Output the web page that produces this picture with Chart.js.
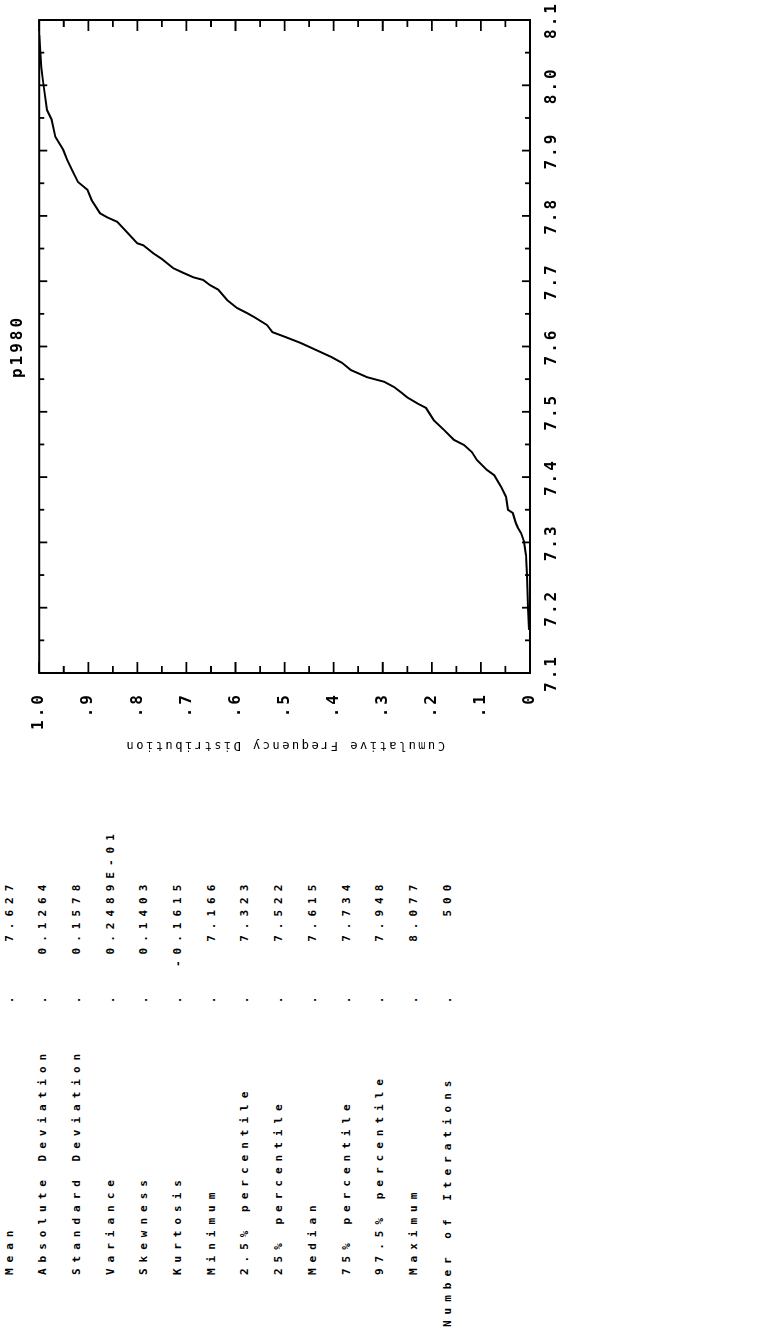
<!DOCTYPE html>
<html>
<head>
<meta charset="utf-8">
<script src="https://cdn.jsdelivr.net/npm/chart.js@4.4.1/dist/chart.umd.min.js"></script>
<style>
  html, body { margin: 0; padding: 0; background: #fff; }
  body { width: 762px; height: 1332px; overflow: hidden; position: relative; }
  /* the sheet is laid out landscape and turned a quarter turn to stand upright */
  #sheet {
    position: absolute; left: 0; top: 0; width: 1332px; height: 762px;
    transform-origin: 0 0; transform: translateY(1332px) rotate(-90deg);
    background: #fff;
  }
  #plotBox { position: absolute; left: 560px; top: 0; width: 772px; height: 600px; }
  .stat {
    position: absolute; height: 14px; line-height: 14px;
    font-family: "DejaVu Sans Mono", monospace; font-size: 11px; font-weight: bold;
    letter-spacing: 6px; white-space: pre; color: #000;
  }
</style>
</head>
<body>
<div id="sheet">
  <div id="plotBox"><canvas id="cdf" width="772" height="600"></canvas></div>
  <div id="stats"></div>
</div>
<script>
// Simulated output variable and its empirical cumulative distribution
const seriesName = 'p1980';
const axisTitle = 'Cumulative Frequency Distribution';

const sampleValues = [
  7.166, 7.200, 7.250, 7.280, 7.301, 7.314, 7.323, 7.330, 7.345, 7.350,
  7.370, 7.385, 7.403, 7.411, 7.426, 7.438, 7.449, 7.457, 7.472, 7.487,
  7.506, 7.513, 7.522, 7.530, 7.538, 7.546, 7.553, 7.564, 7.575, 7.584,
  7.596, 7.605, 7.615, 7.622, 7.633, 7.645, 7.651, 7.659, 7.671, 7.687,
  7.694, 7.702, 7.706, 7.713, 7.720, 7.734, 7.743, 7.755, 7.758, 7.775,
  7.791, 7.798, 7.804, 7.824, 7.840, 7.852, 7.870, 7.886, 7.901, 7.921,
  7.948, 7.962, 8.005, 8.028, 8.077
];
const cumulativeFreq = [
  0.002, 0.004, 0.006, 0.008, 0.012, 0.018, 0.025, 0.029, 0.035, 0.045,
  0.049, 0.059, 0.073, 0.088, 0.108, 0.118, 0.134, 0.155, 0.175, 0.196,
  0.212, 0.230, 0.250, 0.263, 0.277, 0.297, 0.332, 0.365, 0.383, 0.405,
  0.440, 0.466, 0.500, 0.525, 0.536, 0.562, 0.576, 0.597, 0.617, 0.635,
  0.652, 0.666, 0.686, 0.707, 0.727, 0.750, 0.768, 0.788, 0.800, 0.821,
  0.841, 0.862, 0.876, 0.893, 0.902, 0.921, 0.933, 0.943, 0.951, 0.967,
  0.975, 0.984, 0.992, 0.996, 1.000
];

const valueTicks = [7.1, 7.2, 7.3, 7.4, 7.5, 7.6, 7.7, 7.8, 7.9, 8.0, 8.1];
const valueTickLabels = ['7.1', '7.2', '7.3', '7.4', '7.5', '7.6', '7.7', '7.8', '7.9', '8.0', '8.1'];
const freqTicks = [0, 0.1, 0.2, 0.3, 0.4, 0.5, 0.6, 0.7, 0.8, 0.9, 1.0];
const freqTickLabels = ['0', '.1', '.2', '.3', '.4', '.5', '.6', '.7', '.8', '.9', '1.0'];

const statNames = [
  'Mean', 'Absolute Deviation', 'Standard Deviation', 'Variance', 'Skewness',
  'Kurtosis', 'Minimum', '2.5% percentile', '25% percentile', 'Median',
  '75% percentile', '97.5% percentile', 'Maximum', 'Number of Iterations'
];
const statValues = [
  '7.627', '0.1264', '0.1578', '0.2489E-01', '0.1403',
  '-0.1615', '7.166', '7.323', '7.522', '7.615',
  '7.734', '7.948', '8.077', '500'
];

// ---- statistics listing ----
const statsEl = document.getElementById('stats');
const rowPitch = 33.7, firstRowCenter = 9.5;
const cell = 12.62;              // monospace advance plus letter spacing
const valueField = 365;          // start of the value field
function putText(text, left, center) {
  const d = document.createElement('div');
  d.className = 'stat';
  d.textContent = text;
  d.style.left = left + 'px';
  d.style.top = (center - 7) + 'px';
  statsEl.appendChild(d);
}
statNames.forEach((name, i) => {
  const yc = firstRowCenter + i * rowPitch;
  putText(name, name.length > 18 ? 5 : 57, yc);
  putText('.', 332 - 3.3, yc);
  const v = statValues[i];
  // fixed-point values end at cell 6, exponent form fills the whole field
  const startCell = v.includes('E') ? 11 - v.length : 7 - v.length;
  putText(v, valueField + startCell * cell, yc);
});

// ---- chart ----
const points = sampleValues.map((v, i) => ({ x: v, y: cumulativeFreq[i] }));

function midpoints(arr) {
  const out = [];
  for (let i = 0; i < arr.length - 1; i++) out.push((arr[i] + arr[i + 1]) / 2);
  return out;
}

const frameAndTicks = {
  id: 'frameAndTicks',
  beforeDraw(chart) {
    chart.ctx.letterSpacing = '3px';
  },
  afterDatasetsDraw(chart) {
    const { ctx, chartArea: a, scales: { x, y } } = chart;
    ctx.save();
    ctx.strokeStyle = '#000';
    ctx.lineWidth = 2;
    ctx.strokeRect(a.left, a.top, a.right - a.left, a.bottom - a.top);
    ctx.lineWidth = 1.8;
    ctx.beginPath();
    const xTick = (v, len) => {
      const px = x.getPixelForValue(v);
      ctx.moveTo(px, a.bottom); ctx.lineTo(px, a.bottom - len);
      ctx.moveTo(px, a.top); ctx.lineTo(px, a.top + len);
    };
    const yTick = (v, len) => {
      const py = y.getPixelForValue(v);
      ctx.moveTo(a.left, py); ctx.lineTo(a.left + len, py);
      ctx.moveTo(a.right, py); ctx.lineTo(a.right - len, py);
    };
    valueTicks.forEach(v => xTick(v, 8));
    midpoints(valueTicks).forEach(v => xTick(v, 5));
    freqTicks.forEach(v => yTick(v, 11));
    midpoints(freqTicks).forEach(v => yTick(v, 7));
    ctx.stroke();
    ctx.restore();
    // the axis title layer is drawn after this point
    ctx.letterSpacing = '2.5px';
  }
};

new Chart(document.getElementById('cdf'), {
  type: 'scatter',
  data: {
    datasets: [{
      data: points,
      showLine: true,
      borderColor: '#000',
      borderWidth: 2,
      pointRadius: 0,
      tension: 0,
      fill: false
    }]
  },
  options: {
    responsive: false,
    animation: false,
    devicePixelRatio: 1,
    layout: { padding: { left: 0, right: 20, top: 0, bottom: 0 } },
    plugins: {
      legend: { display: false },
      tooltip: { enabled: false },
      title: {
        display: true,
        text: seriesName,
        fullSize: false,
        color: '#000',
        font: { family: 'DejaVu Sans Mono', size: 16, weight: 'bold' },
        padding: { top: 8, bottom: 12 }
      }
    },
    scales: {
      x: {
        type: 'linear',
        min: 7.1, max: 8.1,
        grid: { display: false },
        border: { display: false },
        afterBuildTicks: s => { s.ticks = valueTicks.map(v => ({ value: v })); },
        afterFit: s => { s.height = 70; },
        ticks: {
          autoSkip: false, maxRotation: 0, padding: 4,
          color: '#000',
          font: { family: 'DejaVu Sans Mono', size: 16, weight: 'bold' },
          callback: (v, i) => valueTickLabels[i]
        }
      },
      y: {
        type: 'linear',
        min: 0, max: 1,
        grid: { display: false, z: 1 },
        border: { display: false },
        afterBuildTicks: s => { s.ticks = freqTicks.map(v => ({ value: v })); },
        afterFit: s => { s.width = 99; },
        title: {
          display: true,
          text: axisTitle,
          color: '#000',
          font: { family: 'DejaVu Sans Mono', size: 12 },
          padding: { top: 20, bottom: 0 }
        },
        ticks: {
          padding: 11,
          color: '#000',
          font: { family: 'DejaVu Sans Mono', size: 16, weight: 'bold' },
          callback: (v, i) => freqTickLabels[i]
        }
      }
    }
  },
  plugins: [frameAndTicks]
});
</script>
</body>
</html>
